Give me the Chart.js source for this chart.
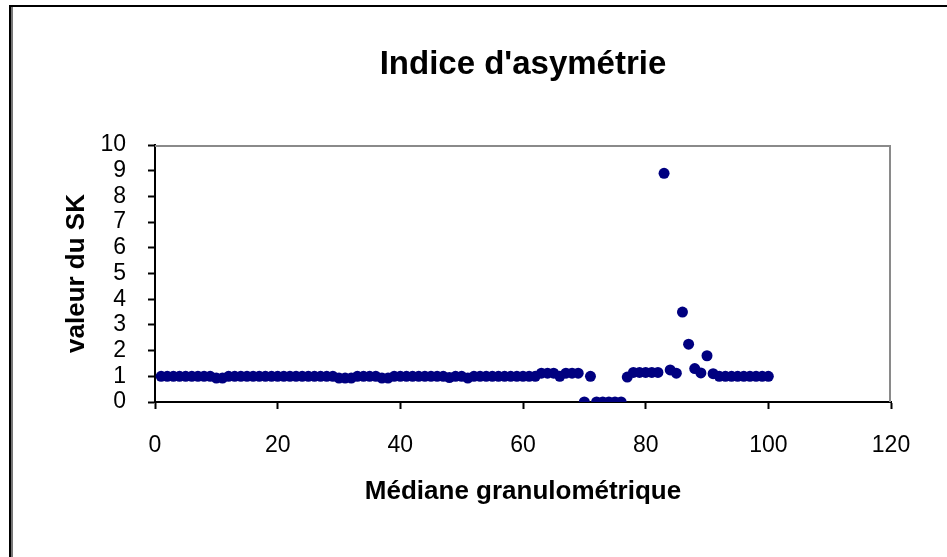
<!DOCTYPE html>
<html>
<head>
<meta charset="utf-8">
<script src="https://cdn.jsdelivr.net/npm/chart.js@4"></script>
<style>
  html, body { margin: 0; padding: 0; background: #fff; }
  #wrap { position: relative; width: 947px; height: 557px; }
</style>
</head>
<body>
<div id="wrap"><canvas id="chart" width="947" height="557"></canvas></div>
<script>
  // x = médiane granulométrique, y = valeur du SK
  const MEDIANE = [
    1, 2, 3, 4, 5, 6, 7, 8, 9, 10,
    11, 12, 13, 14, 15, 16, 17, 18, 19, 20,
    21, 22, 23, 24, 25, 26, 27, 28, 29, 30,
    31, 32, 33, 34, 35, 36, 37, 38, 39, 40,
    41, 42, 43, 44, 45, 46, 47, 48, 49, 50,
    51, 52, 53, 54, 55, 56, 57, 58, 59, 60,
    61, 62, 63, 64, 65, 66, 67, 68, 69, 70,
    71, 72, 73, 74, 75, 76, 77, 78, 79, 80,
    81, 82, 83, 84, 85, 86, 87, 88, 89, 90,
    91, 92, 93, 94, 95, 96, 97, 98, 99, 100
  ];
  const SK = [
    1.0, 1.0, 1.0, 1.0, 1.0, 1.0, 1.0, 1.0, 1.0, 0.93,
    0.93, 1.0, 1.0, 1.0, 1.0, 1.0, 1.0, 1.0, 1.0, 1.0,
    1.0, 1.0, 1.0, 1.0, 1.0, 1.0, 1.0, 1.0, 1.0, 0.93,
    0.93, 0.93, 1.0, 1.0, 1.0, 1.0, 0.93, 0.93, 1.0, 1.0,
    1.0, 1.0, 1.0, 1.0, 1.0, 1.0, 1.0, 0.95, 1.0, 1.0,
    0.93, 1.0, 1.0, 1.0, 1.0, 1.0, 1.0, 1.0, 1.0, 1.0,
    1.0, 1.0, 1.12, 1.12, 1.12, 1.0, 1.12, 1.12, 1.12, 0.0,
    1.0, 0.0, 0.0, 0.0, 0.0, 0.0, 0.97, 1.15, 1.15, 1.15,
    1.15, 1.15, 8.9, 1.25, 1.12, 3.5, 2.25, 1.3, 1.13, 1.8,
    1.1, 1.0, 1.0, 1.0, 1.0, 1.0, 1.0, 1.0, 1.0, 1.0
  ];
  const X_TICKS = [0, 20, 40, 60, 80, 100, 120];
  const Y_TICKS = [0, 1, 2, 3, 4, 5, 6, 7, 8, 9, 10];

  const FONT = "'Liberation Sans', Arial, sans-serif";

  // outer frame + grey top/right edge of the plot area
  const frame = {
    id: "frame",
    beforeDraw(chart) {
      const c = chart.ctx;
      c.save();
      c.fillStyle = "#fff";
      c.fillRect(0, 0, chart.width, chart.height);
      c.fillStyle = "#000";
      c.fillRect(9, 5, chart.width - 9, 2);
      c.fillRect(9, 5, 2, chart.height - 5);
      c.fillStyle = "#777";
      c.fillRect(11, 7, 2, chart.height - 7);
      c.restore();
    },
    beforeDatasetsDraw(chart) {
      const a = chart.chartArea;
      const c = chart.ctx;
      c.save();
      c.strokeStyle = "#8a8a8a";
      c.lineWidth = 2;
      c.beginPath();
      c.moveTo(a.left, a.top + 1);
      c.lineTo(a.right - 1, a.top + 1);
      c.lineTo(a.right - 1, a.bottom);
      c.stroke();
      c.restore();
    },
  };

  new Chart(document.getElementById("chart"), {
    type: "scatter",
    data: {
      datasets: [{
        label: "SK",
        data: MEDIANE.map((x, i) => ({ x, y: SK[i] })),
        backgroundColor: "#000080",
        borderColor: "#000080",
        borderWidth: 0,
        pointRadius: 5.5,
        pointHoverRadius: 5.5,
      }],
    },
    options: {
      responsive: false,
      animation: false,
      events: [],
      layout: { padding: { left: 20, right: 56, top: 0, bottom: 40 } },
      plugins: {
        legend: { display: false },
        tooltip: { enabled: false },
        title: {
          display: true,
          text: "Indice d'asymétrie",
          color: "#000",
          fullSize: false,
          font: { family: FONT, size: 33, weight: "bold", lineHeight: 1.2 },
          padding: { top: 45, bottom: 60.4 },
        },
      },
      scales: {
        x: {
          type: "linear",
          min: 0,
          max: 120,
          afterBuildTicks: (s) => { s.ticks = X_TICKS.map((v) => ({ value: v })); },
          afterFit: (s) => { s.height = 115; },
          border: { color: "#000", width: 2 },
          grid: { drawOnChartArea: false, drawTicks: true, tickLength: 7, tickColor: "#000", tickWidth: 2 },
          ticks: { color: "#000", padding: 23, maxRotation: 0, autoSkip: false,
                   font: { family: FONT, size: 23 } },
          title: {
            display: true,
            text: "Médiane granulométrique",
            color: "#000",
            font: { family: FONT, size: 26, weight: "bold", lineHeight: 1.2 },
            padding: { top: 0, bottom: 10 },
          },
        },
        y: {
          type: "linear",
          min: 0,
          max: 10,
          afterBuildTicks: (s) => { s.ticks = Y_TICKS.map((v) => ({ value: v })); },
          afterFit: (s) => { s.width = 135; },
          border: { color: "#000", width: 2 },
          grid: { drawOnChartArea: false, drawTicks: true, tickLength: 7, tickColor: "#000", tickWidth: 2 },
          ticks: { color: "#000", padding: 22, autoSkip: false,
                   font: { family: FONT, size: 23, lineHeight: 1 } },
          title: {
            display: true,
            text: "valeur du SK",
            color: "#000",
            font: { family: FONT, size: 26, weight: "bold", lineHeight: 1.2 },
            padding: { top: 41, bottom: 0 },
          },
        },
      },
    },
    plugins: [frame],
  });
</script>
</body>
</html>
